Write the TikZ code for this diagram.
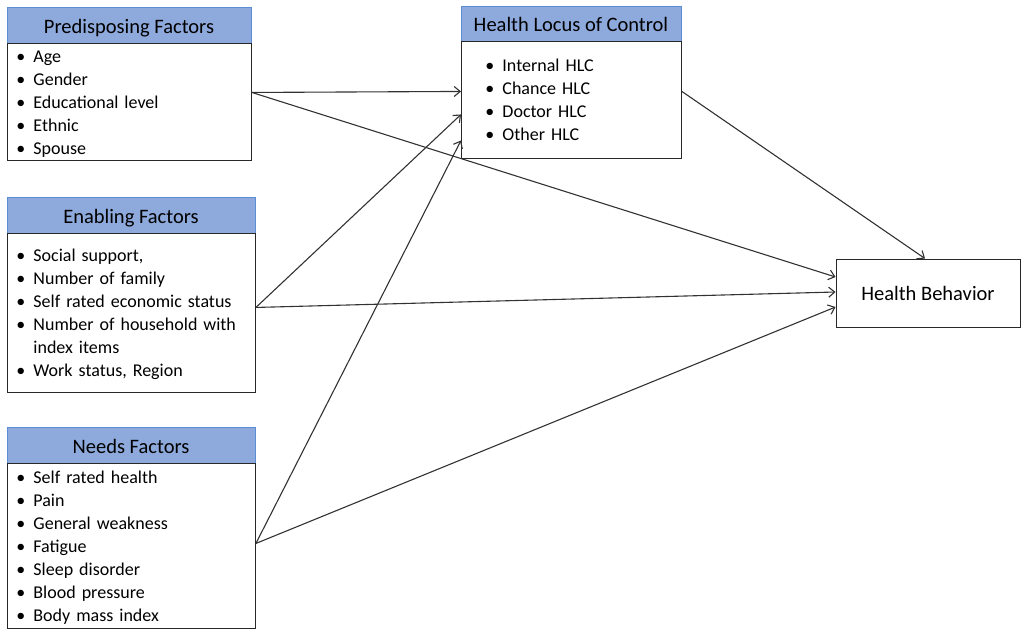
\documentclass[tikz,border=0pt]{standalone}
\usepackage{fontspec}
\setmainfont{Carlito}
\usetikzlibrary{arrows.meta}
\definecolor{hdrfill}{RGB}{142,169,219}
\definecolor{hdrline}{RGB}{91,140,214}
\definecolor{boxline}{RGB}{40,40,40}
\definecolor{arrline}{RGB}{50,50,50}
\newcommand{\lstrut}{\rule[-5pt]{0pt}{23pt}}
\newcommand{\itm}[1]{\lstrut\makebox[17pt][l]{\textbullet}#1}
\begin{document}
\begin{tikzpicture}[x=1pt,y=-1pt,>={Straight Barb[length=6pt,width=10pt]},
    hdr/.style={draw=hdrline, fill=hdrfill, line width=0.8pt, inner sep=0pt,
      text height=16pt, text depth=0pt, font=\fontsize{20.5}{24}\selectfont},
    lst/.style={draw=boxline, line width=0.9pt, anchor=north west, inner ysep=0pt,
      align=left, font=\fontsize{18}{23}\selectfont},
    arr/.style={->, draw=arrline, line width=1.1pt}]
    \useasboundingbox (0,0) rectangle (1021,629);
    % headers
    \node[hdr, minimum width=244pt, minimum height=36pt] (prehd) at (129,25) {Predisposing Factors};
    \node[hdr, minimum width=248pt, minimum height=36pt] (enbhd) at (131,215) {Enabling Factors};
    \node[hdr, minimum width=248pt, minimum height=36pt] (ndshd) at (131,445) {Needs Factors};
    \node[hdr, minimum width=220pt, minimum height=35pt] (hlchd) at (571,23.5) {Health Locus of Control};
    % lists
    \node[lst, inner xsep=9pt, text width=226pt, minimum width=244pt, minimum height=117pt] (preb) at (7,43)
        {\itm{Age}\\ \itm{Gender}\\ \itm{Educational level}\\ \itm{Ethnic}\\ \itm{Spouse}};
    \node[lst, inner xsep=9pt, text width=230pt, minimum width=248pt, minimum height=159pt] (enbb) at (7,233)
        {\itm{Social support,}\\ \itm{Number of family}\\ \itm{Self rated economic status}\\
         \itm{Number of household with}\\ \lstrut\hspace*{17pt}index items\\ \itm{Work status, Region}};
    \node[lst, inner xsep=9pt, text width=230pt, minimum width=248pt, minimum height=165pt] (ndsb) at (7,463)
        {\itm{Self rated health}\\ \itm{Pain}\\ \itm{General weakness}\\ \itm{Fatigue}\\
         \itm{Sleep disorder}\\ \itm{Blood pressure}\\ \itm{Body mass index}};
    \node[lst, inner xsep=24pt, text width=172pt, minimum width=220pt, minimum height=117pt] (hlcb) at (461,41)
        {\itm{Internal HLC}\\ \itm{Chance HLC}\\ \itm{Doctor HLC}\\ \itm{Other HLC}};
    % outcome
    \node[draw=boxline, line width=0.9pt, minimum width=184pt, minimum height=68pt,
        font=\fontsize{20.5}{24}\selectfont] (hb) at (928,293) {Health Behavior};
    % paths
    \draw[arr] ([yshift=9.5pt]preb.east) -- ([yshift=8.5pt]hlcb.west);
    \draw[arr] ([yshift=5.5pt]enbb.east) -- ([yshift=-14.5pt]hlcb.west);
    \draw[arr] ([yshift=2.5pt]ndsb.east) -- ([yshift=-40.5pt]hlcb.west);
    \draw[arr] ([yshift=9.5pt]preb.east) -- ([yshift=16pt]hb.west);
    \draw[arr] ([yshift=5.5pt]enbb.east) -- ([yshift=1pt]hb.west);
    \draw[arr] ([yshift=2.5pt]ndsb.east) -- ([yshift=-14pt]hb.west);
    \draw[arr] ([yshift=8.5pt]hlcb.east) -- ([xshift=-3pt]hb.north);
\end{tikzpicture}
\end{document}
